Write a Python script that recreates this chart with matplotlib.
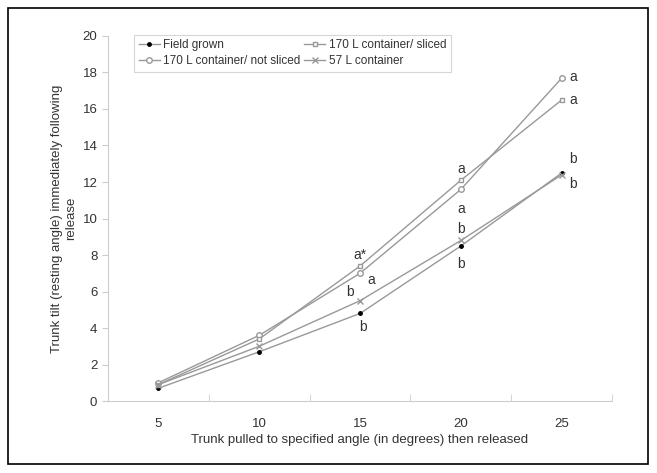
import matplotlib.pyplot as plt
from matplotlib.patches import Rectangle

plt.rcParams['font.family'] = ['Liberation Sans', 'DejaVu Sans']

angles = ['5', '10', '15', '20', '25']
field_grown = [0.7, 2.7, 4.8, 8.5, 12.5]
sliced_170 = [0.9, 3.4, 7.4, 12.1, 16.5]
not_sliced_170 = [1.0, 3.6, 7.0, 11.6, 17.7]
container_57 = [0.9, 3.0, 5.5, 8.8, 12.4]

# significance letters: (series, index, text, dx, dy) in points
letters = [
    ('sliced', 2, 'a*', 0, 8), ('not', 2, 'a', 8, -5), ('c57', 2, 'b', -7, 6), ('field', 2, 'b', 2, -10),
    ('sliced', 3, 'a', 0, 8), ('not', 3, 'a', 0, -14), ('c57', 3, 'b', 0, 8), ('field', 3, 'b', 0, -13),
    ('not', 4, 'a', 8, 1), ('sliced', 4, 'a', 8, 0), ('field', 4, 'b', 8, 10), ('c57', 4, 'b', 8, -7),
]

line_col = '#999999'
fig = plt.figure(figsize=(6.57, 4.73), dpi=100)
ax = fig.add_axes([0.164, 0.152, 0.768, 0.772])

x = list(range(len(angles)))
ax.plot(x, field_grown, color=line_col, lw=1.0, marker='o', ms=2.5, mfc='black', mec='black',
        label='Field grown')
ax.plot(x, not_sliced_170, color=line_col, lw=1.0, marker='o', ms=4, mfc='white', mec=line_col,
        label='170 L container/ not sliced')
ax.plot(x, sliced_170, color=line_col, lw=1.0, marker='s', ms=3.5, mfc='white', mec=line_col,
        label='170 L container/ sliced')
ax.plot(x, container_57, color=line_col, lw=1.0, marker='x', ms=4, mec=line_col,
        label='57 L container')

series = {'field': field_grown, 'sliced': sliced_170, 'not': not_sliced_170, 'c57': container_57}
for key, i, txt, dx, dy in letters:
    ax.annotate(txt, (i, series[key][i]), xytext=(dx, dy), textcoords='offset points',
                ha='center', va='center', fontsize=10, color='#333333')

ax.set_xlim(-0.5, len(angles) - 0.5)
ax.set_ylim(0, 20)
ax.set_yticks(range(0, 21, 2))
ax.set_xticks(x)
ax.set_xticklabels(angles)
ax.set_xticks([i - 0.5 for i in range(len(angles) + 1)], minor=True)
ax.tick_params(axis='x', which='major', length=0, pad=12, labelsize=9.5, colors='#333333')
ax.tick_params(axis='x', which='minor', length=5, direction='in', color='#cccccc')
ax.tick_params(axis='y', length=4, direction='out', color='#cccccc', labelsize=9.5, labelcolor='#333333')
for s in ['top', 'right']:
    ax.spines[s].set_visible(False)
for s in ['left', 'bottom']:
    ax.spines[s].set_color('#cccccc')

ax.set_xlabel('Trunk pulled to specified angle (in degrees) then released', fontsize=9.5,
              color='#333333', labelpad=3)
ax.set_ylabel('Trunk tilt (resting angle) immediately following\nrelease', fontsize=9.5,
              color='#333333', labelpad=4)

leg = ax.legend(loc='upper left', bbox_to_anchor=(0.04, 1.02), ncol=2, fontsize=8.5, frameon=True,
                fancybox=False, edgecolor='#cccccc', handlelength=1.8, handletextpad=0.3,
                columnspacing=0.3, labelspacing=0.3, borderpad=0.4, labelcolor='#333333')
leg.get_frame().set_linewidth(0.8)

fig.patches.append(Rectangle((0.012, 0.02), 0.975, 0.963, transform=fig.transFigure,
                             fill=False, edgecolor='black', lw=1.2))

plt.savefig('out.png', dpi=100)
